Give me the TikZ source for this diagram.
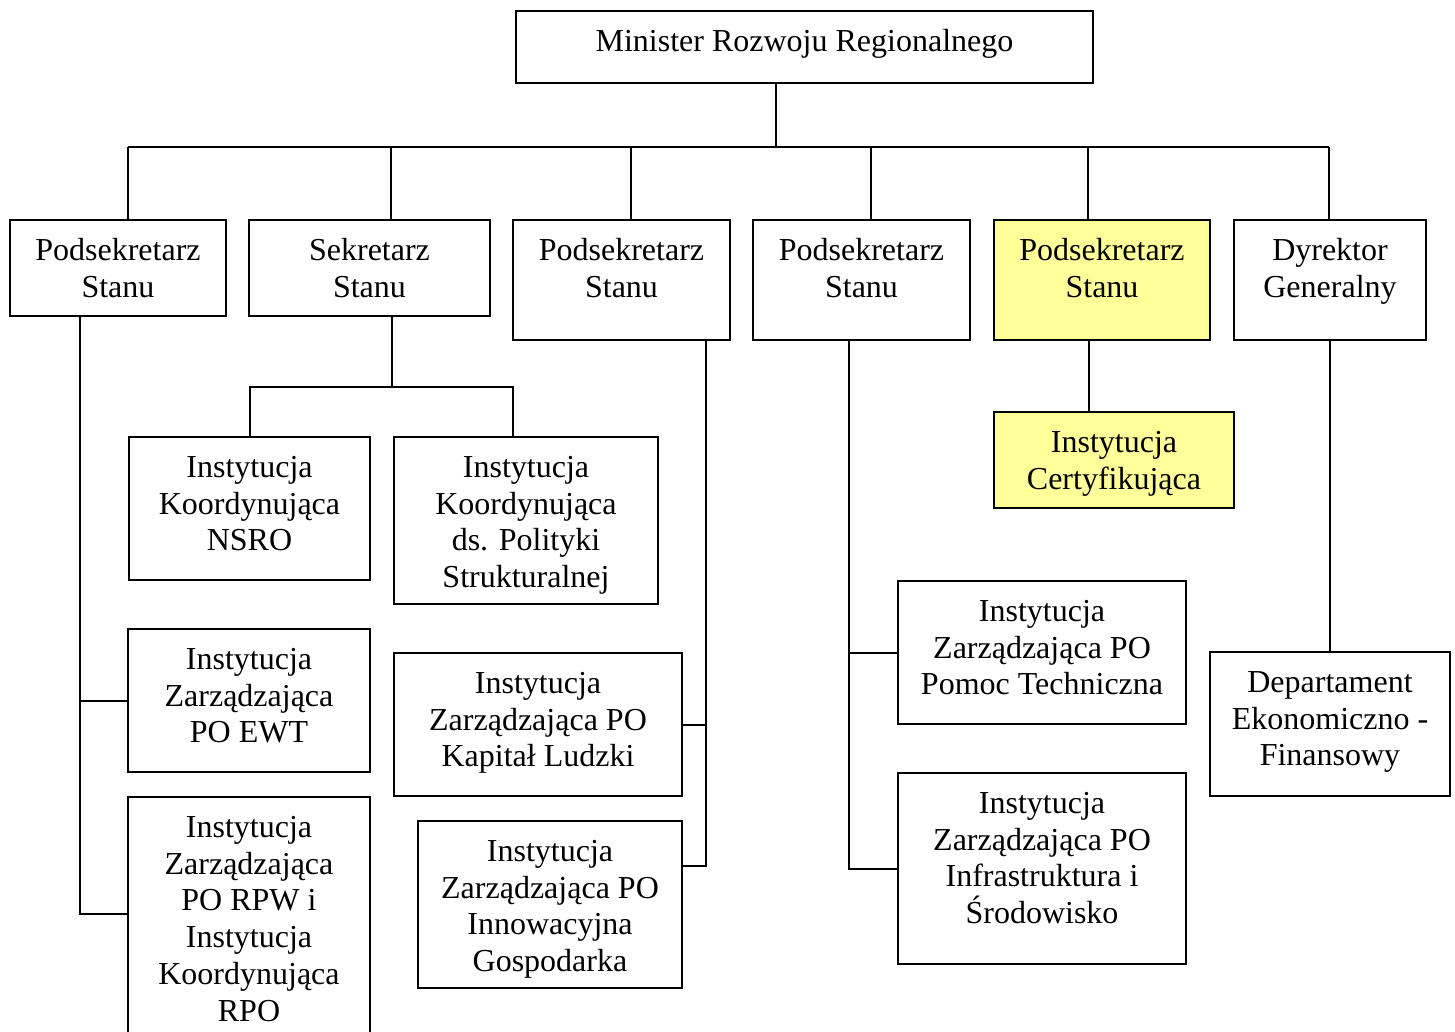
\documentclass[tikz,border=0pt]{standalone}
\usepackage{fontspec}
\setmainfont{Liberation Serif}
\definecolor{certyellow}{RGB}{255,255,153}
% box text: width and height in px, first baseline at the top
\newcommand{\boxtext}[3]{\parbox[c][\dimexpr#2pt/2\relax][t]{\dimexpr#1pt/2\relax}{\centering\rule{0pt}{20.1pt}#3\par}}

\begin{document}
\begin{tikzpicture}[x=0.5pt, y=-0.5pt, line width=1pt,
    box/.style={draw, fill=white, inner sep=0pt, anchor=north west,
        font=\fontsize{16}{18.4}\selectfont},
    cert/.style={box, fill=certyellow}]
    \useasboundingbox (0,0) rectangle (1455,1032);
    \node[box] (min) at (515,10) {\boxtext{577}{72}{Minister Rozwoju Regionalnego}};
    % second level
    \node[box] (pod1) at (9,219) {\boxtext{216}{96}{Podsekretarz\\Stanu}};
    \node[box] (sek) at (248,219) {\boxtext{241}{96}{Sekretarz\\Stanu}};
    \node[box] (pod2) at (512,219) {\boxtext{217}{120}{Podsekretarz\\Stanu}};
    \node[box] (pod3) at (752,219) {\boxtext{217}{120}{Podsekretarz\\Stanu}};
    \node[cert] (pod4) at (993,219) {\boxtext{216}{120}{Podsekretarz\\Stanu}};
    \node[box] (dyr) at (1233,219) {\boxtext{192}{120}{Dyrektor\\Generalny}};
    % institutions
    \node[box] (nsro) at (128,436) {\boxtext{241}{143}{Instytucja\\Koordynująca\\NSRO}};
    \node[box] (polit) at (393,436) {\boxtext{264}{167}{Instytucja\\Koordynująca\\ds. Polityki\\Strukturalnej}};
    \node[cert] (ic) at (993,411) {\boxtext{240}{96}{Instytucja\\Certyfikująca}};
    \node[box] (ewt) at (127,628) {\boxtext{242}{143}{Instytucja\\Zarządzająca\\PO EWT}};
    \node[box] (rpw) at (127,796) {\boxtext{242}{260}{Instytucja\\Zarządzająca\\PO RPW i\\Instytucja\\Koordynująca\\RPO}};
    \node[box] (kl) at (393,652) {\boxtext{288}{143}{Instytucja\\Zarządzająca PO\\Kapitał Ludzki}};
    \node[box] (ig) at (417,820) {\boxtext{264}{167}{Instytucja\\Zarządzająca PO\\Innowacyjna\\Gospodarka}};
    \node[box] (pt) at (897,580) {\boxtext{288}{143}{Instytucja\\Zarządzająca PO\\Pomoc Techniczna}};
    \node[box] (iis) at (897,772) {\boxtext{288}{191}{Instytucja\\Zarządzająca PO\\Infrastruktura i\\Środowisko}};
    \node[box] (def) at (1209,651) {\boxtext{240}{144}{Departament\\Ekonomiczno -\\Finansowy}};
    % top bus
    \draw (min.south -| 776,0) -- (776,147);
    \draw (128,147) -- (1329,147);
    \foreach \n/\x in {pod1/128,sek/391,pod2/631,pod3/871,pod4/1088,dyr/1329}
        \draw (\x,147) -- (\n.north -| \x,0);
    % branches
    \draw (pod1.south -| 80,0) -- (80,914) -- (rpw.west |- 0,914);
    \draw (ewt.west -| 80,0) -- (ewt.west);
    \draw (sek.south -| 392,0) -- (392,387);
    \draw (nsro.north) |- (513,387) -- (polit.north -| 513,0);
    \draw (pod2.south -| 706,0) -- (706,866) -- (ig.east |- 0,866);
    \draw (kl.east -| 706,0) -- (kl.east);
    \draw (pod3.south -| 849,0) |- (iis.west);
    \draw (pt.west -| 849,0) -- (pt.west);
    \draw (pod4.south -| 1089,0) -- (ic.north -| 1089,0);
    \draw (dyr.south) -- (def.north);
\end{tikzpicture}
\end{document}
